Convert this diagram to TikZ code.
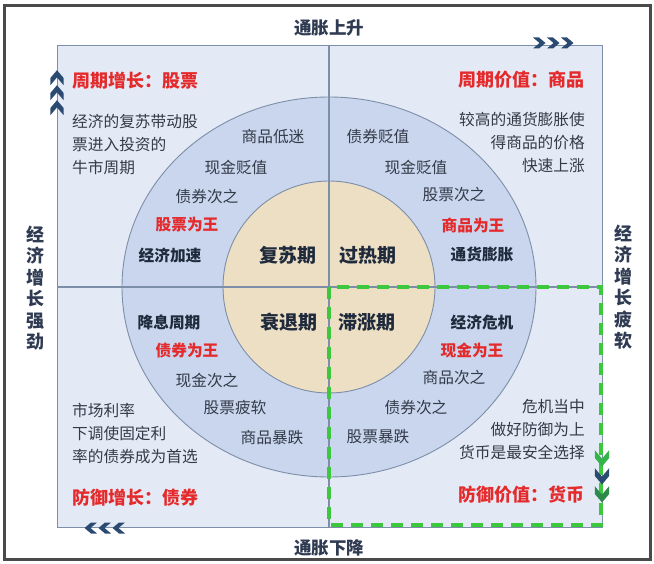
\documentclass[tikz,border=0pt]{standalone}
\usepackage{fontspec}
\newfontfamily\cjk{Noto Sans CJK SC}
\definecolor{framec}{HTML}{4A4A4A}
\definecolor{bgq}{HTML}{E4EAF5}
\definecolor{ringc}{HTML}{C9D6EE}
\definecolor{corec}{HTML}{ECDFC3}
\definecolor{linec}{HTML}{7D8EA8}
\definecolor{txtc}{HTML}{333A48}
\definecolor{darkc}{HTML}{1F2A3C}
\definecolor{redc}{HTML}{E52A2C}
\definecolor{axisc}{HTML}{2F3B52}
\definecolor{navyc}{HTML}{2B4A72}
\definecolor{greenc}{HTML}{3CC83C}
\definecolor{lgreenc}{HTML}{33B34A}
\definecolor{dgreenc}{HTML}{2E8A4A}
\tikzset{
  txt/.style={font=\cjk\fontsize{15.7}{18}\selectfont, text=txtc, inner sep=0pt},
  para/.style={font=\cjk\fontsize{15.7}{23}\selectfont, text=txtc, inner sep=0pt},
  bt/.style={font=\cjk\bfseries\fontsize{15.7}{18}\selectfont, text=darkc, inner sep=0pt},
  kingt/.style={font=\cjk\bfseries\fontsize{15.7}{18}\selectfont, text=redc, inner sep=0pt},
  titlet/.style={font=\cjk\bfseries\fontsize{18}{20}\selectfont, text=redc, inner sep=0pt},
  phaset/.style={font=\cjk\bfseries\fontsize{19}{20}\selectfont, text=darkc, inner sep=0pt},
  axist/.style={font=\cjk\bfseries\fontsize{17.5}{20}\selectfont, text=axisc, inner sep=0pt},
  vaxist/.style={font=\cjk\bfseries\fontsize{18}{21.5}\selectfont, text=axisc, inner sep=0pt, align=center},
  chev/.pic={\fill (-6,-5.5) -- (0,-5.5) -- (6.5,0) -- (0,5.5) -- (-6,5.5) -- (0.5,0) -- cycle;}
}
\begin{document}
\begin{tikzpicture}[x=1pt,y=-1pt]
\useasboundingbox (0,0) rectangle (654,564);
\fill[white] (0,0) rectangle (654,564);
\draw[framec, line width=3pt] (4.5,5.5) rectangle (650,559.5);
% quadrants
\draw[linec, fill=bgq, line width=0.8pt] (57,45) rectangle (602,527);
\draw[linec, fill=ringc, line width=0.9pt] (329,287) ellipse [x radius=207, y radius=190];
\draw[linec, fill=corec, line width=0.9pt] (329,287) circle [radius=106];
\draw[linec, line width=1.2pt] (57,287) -- (602,287);
\draw[linec, line width=1.2pt] (329,45) -- (329,527);
\draw[greenc, line width=3.5pt, dash pattern=on 12pt off 8pt] (329,287) rectangle (601,525);
% chevrons
\foreach \x in {539,553,567} \pic[color=navyc] at (\x,43) {chev};
\foreach \y in {108,93,78} \pic[color=navyc, rotate=90, scale=1.2] at (57,\y) {chev};
\foreach \x in {91,105,119} \pic[color=navyc, rotate=180] at (\x,528) {chev};
\pic[color=lgreenc, rotate=-90, scale=1.3] at (602,458) {chev};
\pic[color=navyc, rotate=-90, scale=1.3] at (602,476) {chev};
\pic[color=dgreenc, rotate=-90, scale=1.3] at (602,494) {chev};
% axis labels
\node[axist] (up) at (329,28) {通胀上升};
\node[axist] (down) at (329,548) {通胀下降};
\node[vaxist] (lft) at (36,288) {经\\济\\增\\长\\强\\劲};
\node[vaxist] (rgt) at (623,287) {经\\济\\增\\长\\疲\\软};
% phases
\node[phaset] (p1) at (288,255) {复苏期};
\node[phaset] (p2) at (368,255) {过热期};
\node[phaset] (p3) at (289,322) {衰退期};
\node[phaset] (p4) at (367,322) {滞涨期};
% top-left
\node[titlet, anchor=west] (t1) at (72,81) {周期增长：股票};
\node[para, anchor=west, align=left] (d1) at (72,145) {经济的复苏带动股\\票进入投资的\\牛市周期};
\node[txt] (a1) at (273,137) {商品低迷};
\node[txt] (a2) at (236,167) {现金贬值};
\node[txt] (a3) at (207,197) {债券次之};
\node[kingt] (a4) at (187,225) {股票为王};
\node[bt] (a5) at (170,255) {经济加速};
% top-right
\node[titlet, anchor=east] (t2) at (585,80) {周期价值：商品};
\node[para, anchor=east, align=right] (d2) at (585,143) {较高的通货膨胀使\\得商品的价格\\快速上涨};
\node[txt] (b1) at (378,137) {债券贬值};
\node[txt] (b2) at (416,167) {现金贬值};
\node[txt] (b3) at (454,195) {股票次之};
\node[kingt] (b4) at (473,225) {商品为王};
\node[bt] (b5) at (482,255) {通货膨胀};
% bottom-left
\node[bt] (c1) at (169,322) {降息周期};
\node[kingt] (c2) at (187,351) {债券为王};
\node[txt] (c3) at (207,380) {现金次之};
\node[txt] (c4) at (235,408) {股票疲软};
\node[txt] (c5) at (272,438) {商品暴跌};
\node[para, anchor=west, align=left] (d3) at (72,434) {市场利率\\下调使固定利\\率的债券成为首选};
\node[titlet, anchor=west] (t3) at (72,498) {防御增长：债券};
% bottom-right
\node[bt] (e1) at (482,322) {经济危机};
\node[kingt] (e2) at (472,350) {现金为王};
\node[txt] (e3) at (454,378) {商品次之};
\node[txt] (e4) at (416,408) {债券次之};
\node[txt] (e5) at (378,437) {股票暴跌};
\node[para, anchor=east, align=right] (d4) at (585,430) {危机当中\\做好防御为上\\货币是最安全选择};
\node[titlet, anchor=east] (t4) at (585,495) {防御价值：货币};
\end{tikzpicture}
\end{document}
